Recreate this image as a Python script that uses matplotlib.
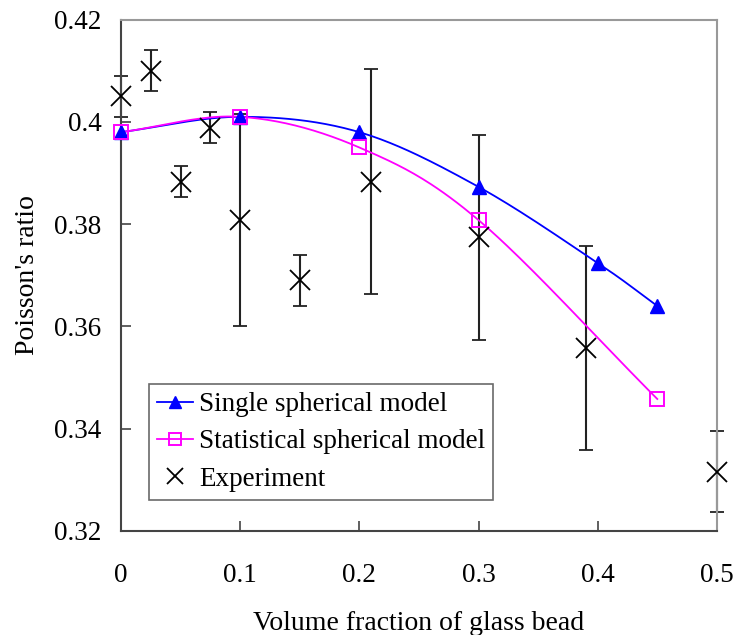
import matplotlib.pyplot as plt
import numpy as np

plt.rcParams['font.family'] = ['Liberation Serif', 'DejaVu Serif']

# model curves
x_single = [0.0, 0.1, 0.2, 0.3, 0.4, 0.45]
y_single = [0.398, 0.401, 0.398, 0.3873, 0.3724, 0.364]

x_stat = [0.0, 0.1, 0.2, 0.3, 0.45]
y_stat = [0.398, 0.401, 0.395, 0.3808, 0.3458]

# experiment with error bars
x_exp = [0.0, 0.025, 0.05, 0.075, 0.1, 0.15, 0.21, 0.3, 0.39, 0.5]
y_exp = [0.405, 0.410, 0.3883, 0.3989, 0.3808, 0.3690, 0.3883, 0.3774, 0.3558, 0.3316]
err_exp = [0.004, 0.004, 0.003, 0.003, 0.0207, 0.005, 0.022, 0.020, 0.020, 0.008]


def smooth(xs, ys, n=40):
    # catmull-rom spline through the points (like excel smoothed lines)
    p = np.column_stack([xs, ys])
    p = np.vstack([2 * p[0] - p[1], p, 2 * p[-1] - p[-2]])
    out = []
    t = np.linspace(0, 1, n)[:, None]
    for i in range(1, len(p) - 2):
        p0, p1, p2, p3 = p[i - 1], p[i], p[i + 1], p[i + 2]
        seg = 0.5 * ((2 * p1) + (-p0 + p2) * t + (2 * p0 - 5 * p1 + 4 * p2 - p3) * t ** 2
                     + (-p0 + 3 * p1 - 3 * p2 + p3) * t ** 3)
        out.append(seg)
    out = np.vstack(out)
    return out[:, 0], out[:, 1]


fig = plt.figure(figsize=(7.33, 6.35), dpi=100)
ax = fig.add_axes([0.165, 0.164, 0.813, 0.805])

sx, sy = smooth(x_single, y_single)
ax.plot(sx, sy, color='#0000ff', lw=1.3, zorder=3)
ax.plot(x_single, y_single, ls='none', marker='^', ms=10, color='#0000ff', zorder=4, clip_on=False)
ax.plot([], [], color='#0000ff', lw=1.3, marker='^', ms=9, label='Single spherical model')

tx, ty = smooth(x_stat, y_stat)
ax.plot(tx, ty, color='#ff00ff', lw=1.3, zorder=3)
ax.plot(x_stat, y_stat, ls='none', marker='s', ms=9.5, mfc='none', mec='#ff00ff', mew=1.4,
        zorder=4, clip_on=False)
ax.plot([], [], color='#ff00ff', lw=1.3, marker='s', ms=8.5, mfc='none', mec='#ff00ff', mew=1.4,
        label='Statistical spherical model')

eb = ax.errorbar(x_exp, y_exp, yerr=err_exp, fmt='none', ecolor='#222222', elinewidth=1.5,
                 capsize=5, capthick=1.3, zorder=2)
for art in eb.lines[1] + eb.lines[2]:
    art.set_clip_on(False)
ax.plot(x_exp, y_exp, ls='none', marker='x', ms=14, mew=1.3, color='black', zorder=5,
        clip_on=False)
ax.plot([], [], ls='none', marker='x', ms=12, mew=1.3, color='black', label='Experiment')

ax.set_xlim(0, 0.5)
ax.set_ylim(0.32, 0.42)
ax.set_xticks([0, 0.1, 0.2, 0.3, 0.4, 0.5])
ax.set_xticklabels(['0', '0.1', '0.2', '0.3', '0.4', '0.5'])
ax.set_yticks([0.32, 0.34, 0.36, 0.38, 0.40, 0.42])
ax.set_yticklabels(['0.32', '0.34', '0.36', '0.38', '0.4', '0.42'])
ax.tick_params(direction='in', length=7, width=1.2, labelsize=19.5, color='#444444')
ax.tick_params(axis='x', pad=23)
ax.tick_params(axis='y', pad=14)

for s in ['left', 'bottom']:
    ax.spines[s].set_color('#444444')
    ax.spines[s].set_linewidth(1.5)
for s in ['top', 'right']:
    ax.spines[s].set_color('#999999')
    ax.spines[s].set_linewidth(1.5)

ax.set_xlabel('Volume fraction of glass bead', fontsize=20, labelpad=17)
ax.set_ylabel("Poisson's ratio", fontsize=20, labelpad=10)

leg = ax.legend(loc='lower left', bbox_to_anchor=(0.047, 0.061), fontsize=19.5, frameon=True,
                fancybox=False, edgecolor='#444444', handlelength=1.33, handletextpad=0.22,
                borderpad=0.3, labelspacing=0.45, borderaxespad=0)
leg.get_frame().set_linewidth(1.2)

fig.savefig('out.png', dpi=100)
